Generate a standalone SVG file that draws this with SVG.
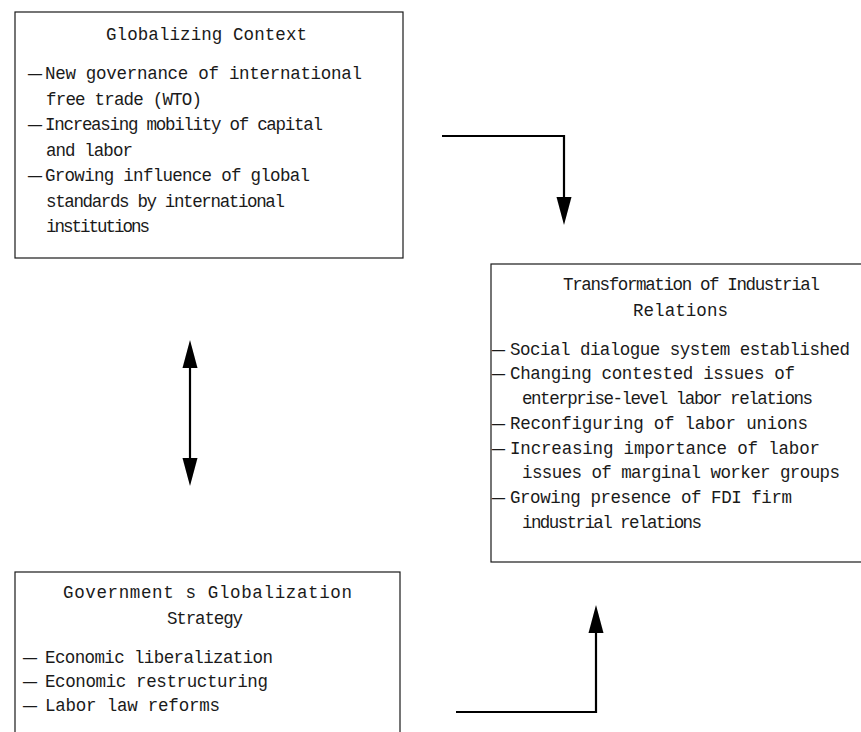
<svg xmlns="http://www.w3.org/2000/svg" width="861" height="732" viewBox="0 0 861 732">
<style>
  .box { fill: #ffffff; stroke: #1a1a1a; stroke-width: 1.2; }
  .t { font-family: "Liberation Mono", "DejaVu Sans Mono", monospace; font-size: 17.5px; fill: #1a1a1a; }
  .d { font-family: "Liberation Mono", "DejaVu Sans Mono", monospace; font-size: 16px; fill: #1a1a1a; }
  .conn { fill: none; stroke: #000000; stroke-width: 2.2; }
</style>
<defs>
  <marker id="head" markerUnits="userSpaceOnUse" markerWidth="28" markerHeight="16" refX="0" refY="7.5" orient="auto-start-reverse" viewBox="0 0 28 15">
    <path d="M0,0 L28,7.5 L0,15 z" fill="#000000"/>
  </marker>
</defs>
<rect width="861" height="732" fill="#ffffff"/>

<g id="globalizing-context">
  <rect class="box" x="15" y="12" width="388" height="246"/>
  <text class="t" x="106" y="40" textLength="201">Globalizing Context</text>
  <text class="d" x="28" y="79" textLength="14" lengthAdjust="spacingAndGlyphs">—</text>
  <text class="t" x="45" y="79" textLength="317">New governance of international</text>
  <text class="t" x="46" y="104.5" textLength="156">free trade (WTO)</text>
  <text class="d" x="28" y="130" textLength="14" lengthAdjust="spacingAndGlyphs">—</text>
  <text class="t" x="45" y="130" textLength="278">Increasing mobility of capital</text>
  <text class="t" x="46" y="155.5" textLength="87">and labor</text>
  <text class="d" x="28" y="181" textLength="14" lengthAdjust="spacingAndGlyphs">—</text>
  <text class="t" x="45" y="181" textLength="265">Growing influence of global</text>
  <text class="t" x="46" y="206.5" textLength="239">standards by international</text>
  <text class="t" x="46" y="232" textLength="104">institutions</text>
</g>

<g id="transformation-of-industrial-relations">
  <rect class="box" x="491" y="264" width="380" height="298"/>
  <text class="t" x="563" y="290" textLength="257">Transformation of Industrial</text>
  <text class="t" x="633" y="316" textLength="95">Relations</text>
  <text class="d" x="492" y="355" textLength="13" lengthAdjust="spacingAndGlyphs">—</text>
  <text class="t" x="510" y="355" textLength="340">Social dialogue system established</text>
  <text class="d" x="492" y="379" textLength="13" lengthAdjust="spacingAndGlyphs">—</text>
  <text class="t" x="510" y="379" textLength="285">Changing contested issues of</text>
  <text class="t" x="522" y="404" textLength="291">enterprise-level labor relations</text>
  <text class="d" x="492" y="429" textLength="13" lengthAdjust="spacingAndGlyphs">—</text>
  <text class="t" x="510" y="429" textLength="298">Reconfiguring of labor unions</text>
  <text class="d" x="492" y="454" textLength="13" lengthAdjust="spacingAndGlyphs">—</text>
  <text class="t" x="510" y="454" textLength="310">Increasing importance of labor</text>
  <text class="t" x="522" y="478" textLength="318">issues of marginal worker groups</text>
  <text class="d" x="492" y="503" textLength="13" lengthAdjust="spacingAndGlyphs">—</text>
  <text class="t" x="510" y="503" textLength="282">Growing presence of FDI firm</text>
  <text class="t" x="522" y="528" textLength="180">industrial relations</text>
</g>

<g id="government-globalization-strategy">
  <rect class="box" x="15" y="572" width="385" height="175"/>
  <text class="t" x="63" y="598" textLength="289">Government s Globalization</text>
  <text class="t" x="167" y="624" textLength="76">Strategy</text>
  <text class="d" x="23" y="663" textLength="14" lengthAdjust="spacingAndGlyphs">—</text>
  <text class="t" x="45" y="663" textLength="228">Economic liberalization</text>
  <text class="d" x="23" y="687" textLength="14" lengthAdjust="spacingAndGlyphs">—</text>
  <text class="t" x="45" y="687" textLength="223">Economic restructuring</text>
  <text class="d" x="23" y="711" textLength="14" lengthAdjust="spacingAndGlyphs">—</text>
  <text class="t" x="45" y="711" textLength="175">Labor law reforms</text>
</g>

<g id="connectors">
  <path class="conn" d="M442,136 H564 V197" marker-end="url(#head)"/>
  <path class="conn" d="M190,368 V458" marker-start="url(#head)" marker-end="url(#head)"/>
  <path class="conn" d="M456,712 H596 V633" marker-end="url(#head)"/>
</g>
</svg>
